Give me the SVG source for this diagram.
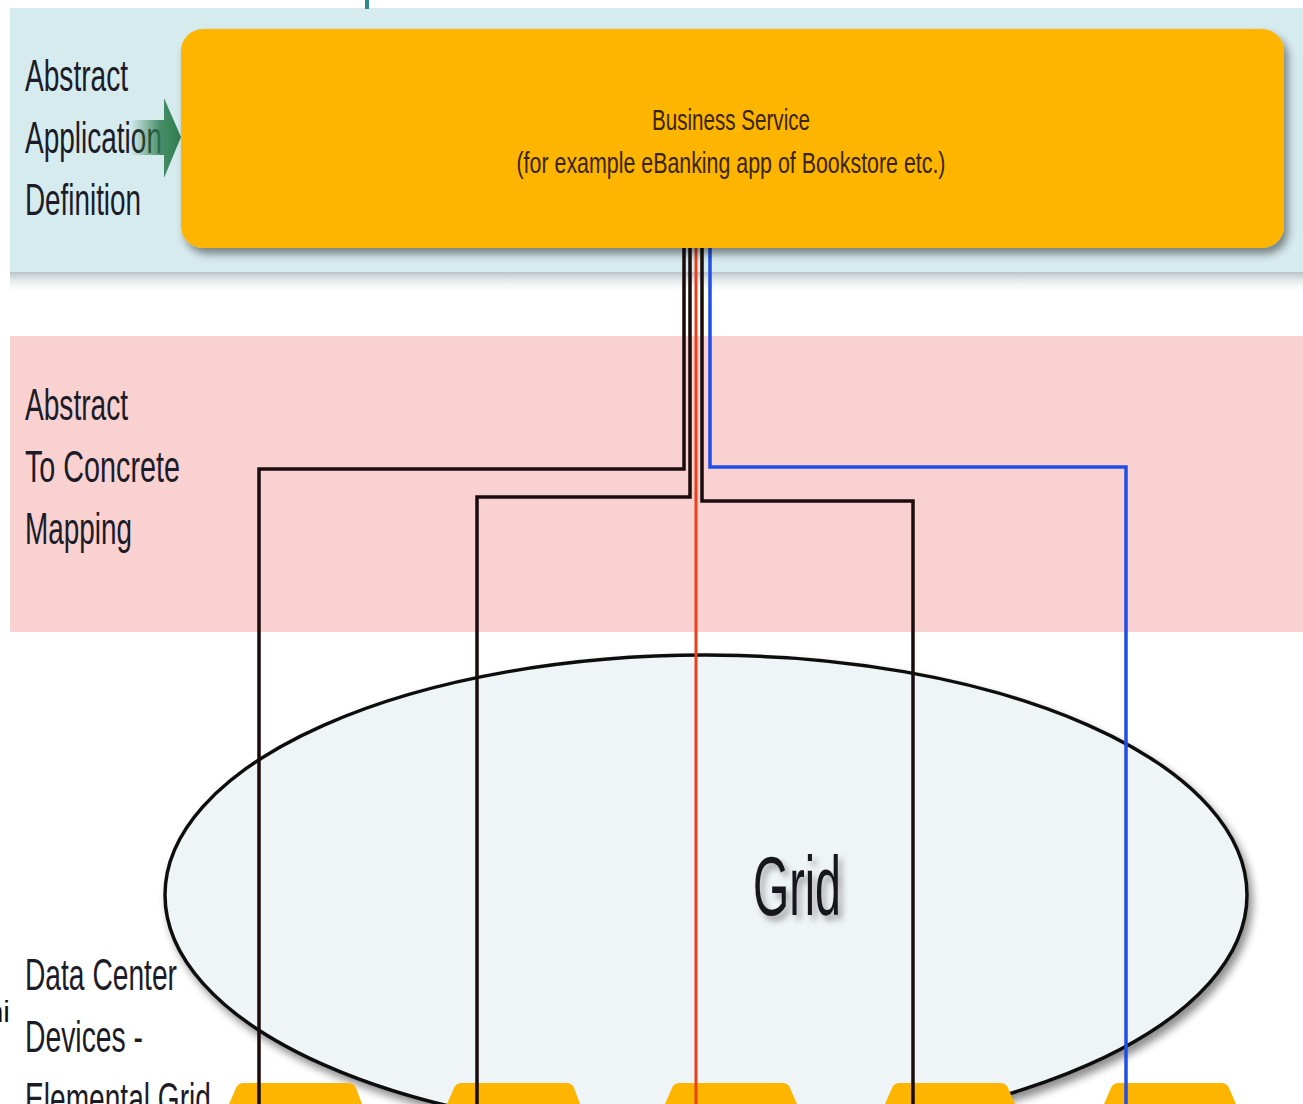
<svg xmlns="http://www.w3.org/2000/svg" width="1303" height="1104" viewBox="0 0 1303 1104">
<style>
.lbl{font-family:"Liberation Sans",Arial,sans-serif;font-size:44px;fill:#1c1c28}
.svc{font-family:"Liberation Sans",Arial,sans-serif;font-size:29px;fill:#3a2400;text-anchor:middle}
.ln{fill:none;stroke:#1a0c0c;stroke-width:3.5}
.node{fill:#fdb500}
</style>
<defs>
<filter id="sh" x="-5%" y="-10%" width="112%" height="130%">
<feGaussianBlur in="SourceAlpha" stdDeviation="4"/>
<feOffset dx="4" dy="6"/>
<feComponentTransfer><feFuncA type="linear" slope="0.45"/></feComponentTransfer>
<feMerge><feMergeNode/><feMergeNode in="SourceGraphic"/></feMerge>
</filter>
<filter id="tsh" x="-20%" y="-20%" width="150%" height="150%">
<feGaussianBlur in="SourceAlpha" stdDeviation="3"/>
<feOffset dx="4" dy="5"/>
<feComponentTransfer><feFuncA type="linear" slope="0.35"/></feComponentTransfer>
<feMerge><feMergeNode/><feMergeNode in="SourceGraphic"/></feMerge>
</filter>
<linearGradient id="fade" x1="0" y1="0" x2="0" y2="1">
<stop offset="0" stop-color="#b9c4c8"/>
<stop offset="1" stop-color="#ffffff" stop-opacity="0"/>
</linearGradient>
<linearGradient id="arr" x1="0" y1="0" x2="1" y2="0">
<stop offset="0" stop-color="#2e7d4f" stop-opacity="0"/>
<stop offset="0.6" stop-color="#2e7d4f" stop-opacity="0.85"/>
<stop offset="1" stop-color="#2e7d4f"/>
</linearGradient>
</defs>
<rect width="1303" height="1104" fill="#ffffff"/>
<g id="bands">
<rect x="10" y="8" width="1293" height="264" fill="#d6ebee"/>
<rect x="10" y="272" width="1293" height="22" fill="url(#fade)"/>
<rect x="10" y="336" width="1293" height="296" fill="#f9d1d1"/>
<rect x="365" y="0" width="4" height="9" fill="#2a8a8a"/>
</g>
<g id="grid">
<ellipse cx="706" cy="895" rx="541" ry="240" fill="#eff4f6" stroke="#111" stroke-width="3.5" filter="url(#sh)"/>
<text x="797" y="915" font-family="'Liberation Sans',Arial,sans-serif" font-size="84" fill="#15151f" text-anchor="middle" textLength="88" lengthAdjust="spacingAndGlyphs" filter="url(#tsh)">Grid</text>
</g>
<g id="devices">
<path class="node" d="M229 1104 L236 1088 Q238 1083 244 1083 L348 1083 Q354 1083 356 1088 L362 1104 Z"/>
<path class="node" d="M447 1104 L454 1088 Q456 1083 462 1083 L566 1083 Q572 1083 574 1088 L580 1104 Z"/>
<path class="node" d="M665 1104 L672 1088 Q674 1083 680 1083 L782 1083 Q788 1083 790 1088 L797 1104 Z"/>
<path class="node" d="M885 1104 L892 1088 Q894 1083 900 1083 L1000 1083 Q1006 1083 1008 1088 L1015 1104 Z"/>
<path class="node" d="M1104 1104 L1111 1088 Q1113 1083 1119 1083 L1221 1083 Q1227 1083 1229 1088 L1236 1104 Z"/>
</g>
<g id="labels">
<text class="lbl" x="25" y="91" textLength="103" lengthAdjust="spacingAndGlyphs">Abstract</text>
<text class="lbl" x="25" y="153" textLength="137" lengthAdjust="spacingAndGlyphs">Application</text>
<text class="lbl" x="25" y="215" textLength="116" lengthAdjust="spacingAndGlyphs">Definition</text>
<text class="lbl" x="25" y="420" textLength="103" lengthAdjust="spacingAndGlyphs">Abstract</text>
<text class="lbl" x="25" y="482" textLength="155" lengthAdjust="spacingAndGlyphs">To Concrete</text>
<text class="lbl" x="25" y="544" textLength="107" lengthAdjust="spacingAndGlyphs">Mapping</text>
<text class="lbl" x="25" y="990" textLength="152" lengthAdjust="spacingAndGlyphs">Data Center</text>
<text class="lbl" x="25" y="1052" textLength="118" lengthAdjust="spacingAndGlyphs">Devices -</text>
<text class="lbl" x="25" y="1114" textLength="186" lengthAdjust="spacingAndGlyphs">Elemental Grid</text>
<text x="10" y="1022" font-family="'Liberation Sans',Arial,sans-serif" font-size="30" fill="#111" text-anchor="end">ni</text>
</g>
<g id="arrow">
<path d="M130 120 L164 120 L164 98 L181 137 L164 178 L164 155 L130 155 Z" fill="url(#arr)"/>
</g>
<g id="connectors">
<polyline class="ln" points="684,248 684,469 259,469 259,1104"/>
<polyline class="ln" points="690,248 690,497 477,497 477,1104"/>
<polyline class="ln" points="702,248 702,501 913,501 913,1104"/>
<line x1="696" y1="248" x2="696" y2="1104" stroke="#e8401a" stroke-width="3"/>
<polyline points="710,248 710,467 1126,467 1126,1104" fill="none" stroke="#1f4fe6" stroke-width="3.5"/>
</g>
<g id="business-service">
<rect x="181" y="29" width="1103" height="219" rx="22" fill="#fdb500" filter="url(#sh)"/>
<text class="svc" x="731" y="130" textLength="158" lengthAdjust="spacingAndGlyphs">Business Service</text>
<text class="svc" x="731" y="173" textLength="429" lengthAdjust="spacingAndGlyphs">(for example eBanking app of Bookstore etc.)</text>
</g>
</svg>
